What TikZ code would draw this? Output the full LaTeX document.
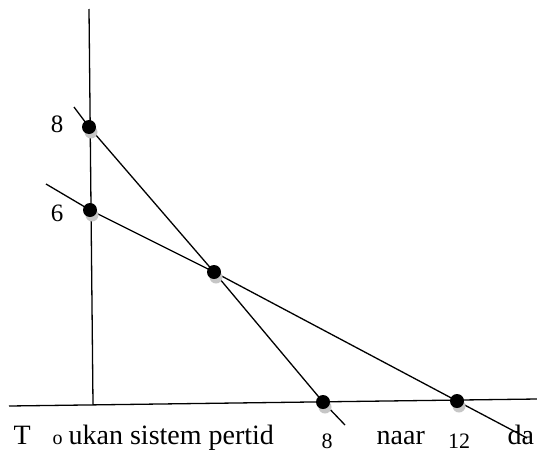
\documentclass[tikz,border=0pt]{standalone}
\usepackage{fontspec}
\setmainfont{Liberation Serif}
\usetikzlibrary{positioning,calc}

\begin{document}
\begin{tikzpicture}[x=1pt, y=-1pt, line width=1.3pt,
  dot/.style={circle, fill=black, inner sep=0pt, minimum size=14pt},
  dotshade/.style={circle, fill=gray!45, inner sep=0pt, minimum size=13pt},
  lbl/.style={inner sep=0pt, font=\fontsize{25}{29}\selectfont},
  txt/.style={anchor=base west, inner sep=0pt, font=\fontsize{28}{32}\selectfont}]
  \useasboundingbox (0,0) rectangle (537,455);
  \clip (0,0) rectangle (537,455);

  % axes
  \coordinate (yTop) at (89,9);
  \coordinate (yBot) at (93,404);
  \coordinate (xLeft) at (9,406);
  \coordinate (xRight) at (537,399);
  \draw (yTop) -- (yBot);
  \draw (xLeft) -- (xRight);

  % points
  \coordinate (pA) at (89,127);
  \coordinate (pB) at (90,210);
  \coordinate (pP) at (214,272);
  \coordinate (pC) at (323,402);
  \coordinate (pD) at (457,401);
  \coordinate (s1) at (74,107);
  \coordinate (e1) at (345,425);
  \coordinate (s2) at (46,184);
  \coordinate (e2) at (527,438);

  \draw (s1) -- (pA) -- (pP) -- (pC) -- (e1);
  \draw (s2) -- (pB) -- (pP) -- (pD) -- (e2);

  \foreach \p in {pA,pB,pP,pC,pD} {
    \node[dotshade] at ($(\p)+(2,5)$) {};
    \node[dot] (d\p) at (\p) {};
  }

  % labels
  \node[lbl] (l8y) at (57,124) {8};
  \node[lbl] (l6y) at (57,213) {6};
  \node[lbl, anchor=north, font=\fontsize{22}{25}\selectfont] (l8x) at (327,433) {8};
  \node[lbl, anchor=north, font=\fontsize{22}{25}\selectfont] (l12x) at (459,433) {12};

  % text below
  \node[txt] (t1) at (13,444) {T};
  \node[txt, font=\fontsize{20}{24}\selectfont] (t2) at (52,444) {o};
  \node[txt] (t3) at (68,444) {ukan sistem pertid};
  \node[txt] (t4) at (376,444) {naar};
  \node[txt] (t5) at (507,444) {da};
\end{tikzpicture}
\end{document}
